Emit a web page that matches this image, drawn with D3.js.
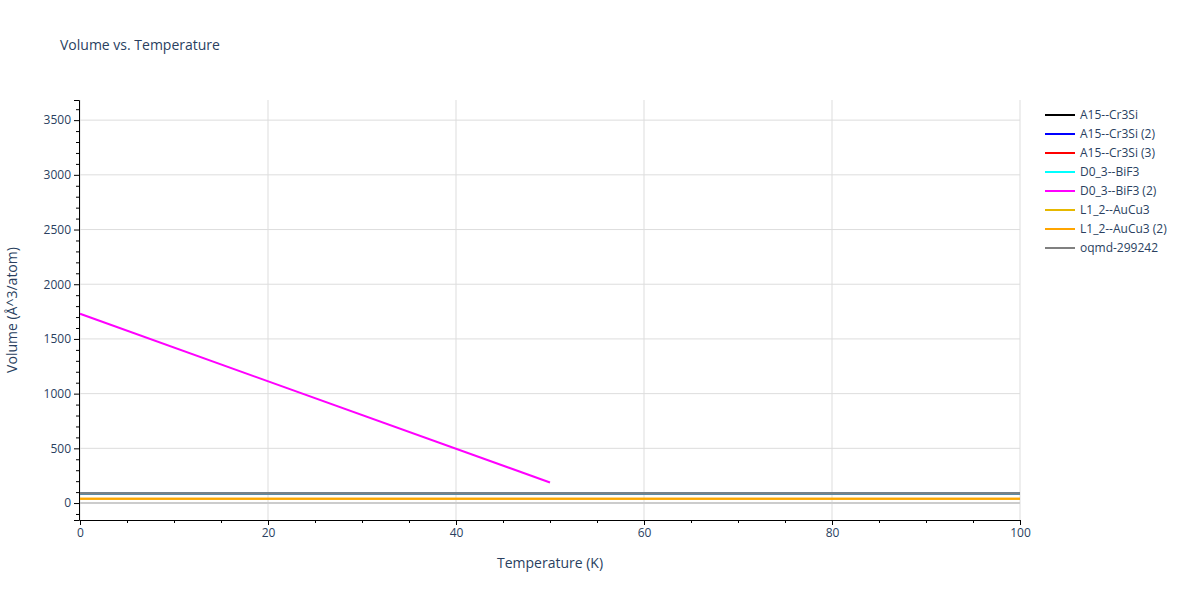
<!DOCTYPE html><html><head><meta charset="utf-8"><script src="https://cdn.jsdelivr.net/npm/d3@7"></script>
<style>body{margin:0;background:#fff}text{font-family:"Open Sans",sans-serif}</style></head><body><svg id="c" width="1200" height="600"></svg><script>
const seriesNames=["A15--Cr3Si","A15--Cr3Si (2)","A15--Cr3Si (3)","D0_3--BiF3","D0_3--BiF3 (2)","L1_2--AuCu3","L1_2--AuCu3 (2)","oqmd-299242"];
const seriesColors=["#000000","#0000ff","#ff0000","#00ffff","#ff00ff","#e6b800","#ffa500","#808080"];
const seriesT=[[0,100],[0,100],[0,100],[0,100],[0,50],[0,100],[0,100],[0,100]];
const seriesV=[[87,87],[87,87],[90,90],[87,87],[1730,188],[40,40],[40,40],[87,87]];
const xTicks=[0,20,40,60,80,100];
const yTicks=[0,500,1000,1500,2000,2500,3000,3500];
const svg=d3.select("#c");
const L=80,R=1020,T=100,B=520;
const x=d3.scaleLinear().domain([0,100]).range([L,R]);
const y=d3.scaleLinear().domain([-155,3684]).range([B,T]);
const g=svg.append("g");
g.selectAll(".gx").data(xTicks).join("line").attr("x1",d=>x(d)).attr("x2",d=>x(d)).attr("y1",T).attr("y2",B).attr("stroke","#ddd");
g.selectAll(".gy").data(yTicks).join("line").attr("x1",L).attr("x2",R).attr("y1",d=>y(d)).attr("y2",d=>y(d)).attr("stroke",d=>d===0?"#ccc":"#ddd").attr("stroke-width",d=>d===0?2:1);
const line=d3.line().x(d=>x(d[0])).y(d=>y(d[1]));
seriesNames.forEach((n,i)=>{svg.append("path").datum(seriesT[i].map((t,j)=>[t,seriesV[i][j]])).attr("d",line).attr("fill","none").attr("stroke",seriesColors[i]).attr("stroke-width",2);});
const xa=svg.append("g").attr("transform",`translate(0,${B})`).call(d3.axisBottom(x).tickValues(d3.range(0,101,5)).tickSize(5).tickFormat(d=>d%20===0?d:""));
xa.selectAll(".tick").filter(d=>d%20!==0).select("line").attr("y2",3);
const ya=svg.append("g").attr("transform",`translate(${L-1},0)`).call(d3.axisLeft(y).tickValues(d3.range(-100,3601,100)).tickSize(5).tickFormat(d=>d%500===0?d:""));
ya.selectAll(".tick").filter(d=>d%500!==0).select("line").attr("x2",-3);
[xa,ya].forEach(a=>{a.select(".domain").attr("stroke","#000");a.selectAll("text").attr("fill","#2a3f5f").style("font-size","12px");});
ya.selectAll("text").attr("x",-8);
svg.append("text").attr("x",60).attr("y",50).text("Volume vs. Temperature").attr("fill","#2a3f5f").style("font-size","14px");
svg.append("text").attr("x",550).attr("y",568).attr("text-anchor","middle").text("Temperature (K)").attr("fill","#2a3f5f").style("font-size","14px");
svg.append("text").attr("transform","translate(17,310) rotate(-90)").attr("text-anchor","middle").text("Volume (Å^3/atom)").attr("fill","#2a3f5f").style("font-size","14px");
seriesNames.forEach((n,i)=>{const yy=115+i*19;svg.append("line").attr("x1",1045).attr("x2",1075).attr("y1",yy).attr("y2",yy).attr("stroke",seriesColors[i]).attr("stroke-width",2);
svg.append("text").attr("x",1080).attr("y",yy+4).text(n).attr("fill","#2a3f5f").style("font-size","12px");});
</script></body></html>
